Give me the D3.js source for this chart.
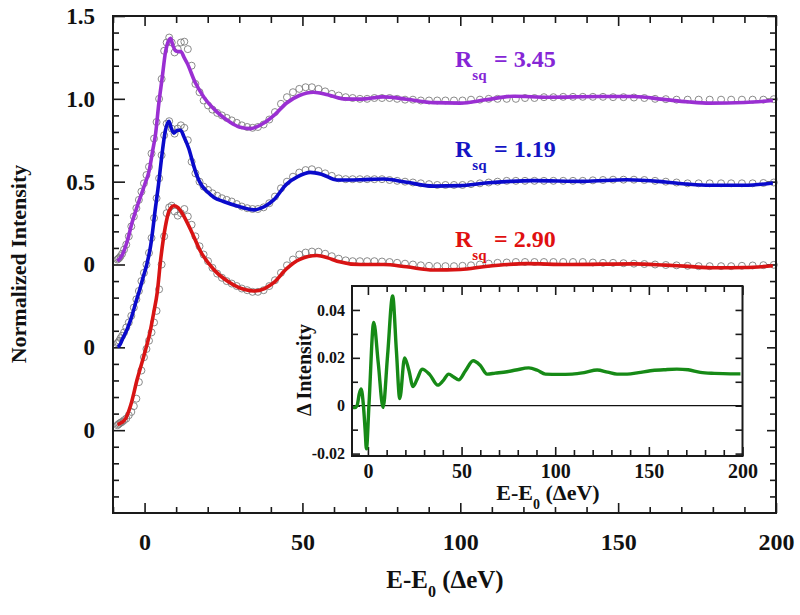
<!DOCTYPE html>
<html><head><meta charset="utf-8">
<script src="https://cdn.jsdelivr.net/npm/d3@7"></script>
<style>
body{margin:0;background:#fff}
svg{display:block}
text{font-family:"Liberation Serif","Times New Roman",serif;font-weight:bold}
</style>
</head><body>
<svg id="chart" width="800" height="615"></svg>
<script>
// ---------- tick labels ----------
const yTickValues = [1.5, 1.0, 0.5, 0, -0.5, -1.0];
const yTickLabels = ["1.5", "1.0", "0.5", "0", "0", "0"];
const xTickValues = [0, 50, 100, 150, 200];
const insetYTickValues = [0.04, 0.02, 0, -0.02];
const insetYTickLabels = ["0.04", "0.02", "0", "-0.02"];
const rsqValues = ["3.45", "1.19", "2.90"];

// ---------- fitted curves (solid lines) ----------
const fitE_purple = [-8.6,-7,-5.5,-4,-2,0,1.5,2.5,3.5,4.5,5.6,6.6,7.6,8.2,9.0,9.8,10.6,11.5,12.5,13.5,16,18.8,23,27,30,33.5,37,41,45,49,53.5,58,63,68.5,75.5,83,91.5,100,108,117,128,144,155,165,172,179,190,199];
const fitV_purple = [0.02,0.06,0.14,0.25,0.37,0.48,0.57,0.68,0.79,0.97,1.13,1.28,1.35,1.365,1.32,1.29,1.285,1.285,1.25,1.215,1.10,1.01,0.92,0.86,0.83,0.82,0.845,0.90,0.975,1.02,1.04,1.025,1.0,0.998,1.012,0.998,0.977,0.974,0.994,1.016,1.01,1.014,1.014,0.995,0.982,0.974,0.978,0.99];

const fitE_blue = [-8.6,-8,-7,-5.5,-4,-2.8,-1.5,-0.5,0.7,1.9,3.5,4.4,5.3,6.6,7.7,8.5,9.3,10.4,11.4,12.5,14,15.5,16.7,18,19.8,22,25,29.9,34.6,38,40.9,45,48.5,52.5,56,61,68.4,75.7,83,91.5,100,108,116,123,139,152.7,165,172,179,190,199];
const fitV_blue = [-0.495,-0.49,-0.45,-0.39,-0.31,-0.23,-0.15,-0.08,0.0,0.11,0.35,0.48,0.63,0.81,0.865,0.82,0.793,0.81,0.81,0.77,0.70,0.60,0.53,0.48,0.44,0.405,0.38,0.35,0.33,0.35,0.39,0.485,0.53,0.556,0.545,0.51,0.512,0.516,0.496,0.473,0.476,0.492,0.502,0.506,0.502,0.512,0.498,0.485,0.478,0.478,0.492];

const fitE_red = [-8.6,-8,-6,-4.4,-2.3,-0.2,1.7,2.9,4.0,5.1,6.6,7.7,9.3,10.5,11.9,14.6,17.7,21.9,26.2,29.9,34.6,38,40.9,45,49,54.6,58,61,68.4,75.7,83,91.5,100,108,115,121,134,155,165,171,181,190,199];
const fitV_red = [-0.965,-0.962,-0.93,-0.85,-0.69,-0.55,-0.41,-0.29,-0.17,0.03,0.23,0.32,0.355,0.345,0.31,0.21,0.08,-0.03,-0.10,-0.14,-0.16,-0.145,-0.11,-0.025,0.03,0.054,0.04,0.02,0.0,0.0,-0.014,-0.033,-0.03,-0.012,0.0,0.005,0.0,0.004,-0.004,-0.01,-0.02,-0.018,-0.008];

// ---------- measured data (open circles) ----------
const dataE = [
 -8.6,-8.3,-8.0,-7.6,-7.1,-6.5,-5.8,-5.0,-4.2,-3.4,
 -2.6,-1.8,-1.0,-0.2,0.6,1.4,2.2,3.0,3.8,4.6,
 5.4,6.2,7.0,7.8,8.6,9.5,10.5,11.5,12.6,13.7,
 14.9,16.1,17.4,18.7,20.1,21.5,23.0,24.5,26.0,27.6,
 29.2,30.8,32.5,34.2,35.9,37.7,39.5,41.3,43.2,45.1,
 47.0,49.0,51.0,53.0,55.1,57.2,59.3,61.5,63.7,65.9,
 68.2,70.5,72.8,75.2,77.6,80.0,82.5,85.0,87.5,90.1,
 92.7,95.3,98.0,100.7,103.4,106.2,109.0,111.8,114.7,117.6,
 120.5,123.5,126.5,129.5,132.6,135.7,138.8,142.0,145.2,148.4,
 151.7,155.0,158.3,161.7,165.1,168.5,172.0,175.5,179.0,182.6,
 185.8,189.2,192.6,196.0,199.3];
const dataV_purple = [
 0.03,0.035,0.04,0.05,0.065,0.09,0.12,0.17,0.23,0.29,
 0.34,0.39,0.44,0.49,0.54,0.59,0.67,0.76,0.86,1.0,
 1.12,1.29,1.34,1.37,1.34,1.28,1.30,1.34,1.345,1.30,
 1.20,1.09,1.04,0.99,0.96,0.935,0.915,0.90,0.885,0.87,
 0.855,0.84,0.83,0.825,0.83,0.845,0.875,0.92,0.97,1.01,
 1.04,1.06,1.07,1.07,1.06,1.045,1.03,1.02,1.01,1.005,
 1.0,1.0,1.005,1.005,1.005,1.0,0.995,0.995,0.99,0.99,
 0.99,0.99,0.99,0.99,0.995,0.995,1.0,1.0,1.0,1.0,
 1.005,1.005,1.01,1.01,1.012,1.012,1.012,1.012,1.012,1.01,
 1.01,1.008,1.005,1.0,0.998,0.995,0.995,0.995,0.995,0.995,
 0.995,0.995,0.995,0.995,0.998];
const dataV_blue = [
 -0.475,-0.47,-0.46,-0.445,-0.43,-0.41,-0.38,-0.35,-0.31,-0.26,
 -0.21,-0.16,-0.10,-0.05,0.0,0.07,0.16,0.28,0.40,0.52,
 0.66,0.78,0.85,0.865,0.82,0.79,0.82,0.84,0.825,0.75,
 0.62,0.55,0.50,0.47,0.45,0.43,0.415,0.40,0.39,0.38,
 0.365,0.35,0.34,0.335,0.335,0.345,0.37,0.41,0.46,0.50,
 0.53,0.555,0.57,0.575,0.565,0.55,0.535,0.52,0.515,0.515,
 0.515,0.515,0.515,0.515,0.51,0.505,0.50,0.495,0.49,0.485,
 0.48,0.48,0.48,0.48,0.485,0.49,0.495,0.50,0.505,0.505,
 0.505,0.505,0.505,0.505,0.505,0.505,0.505,0.508,0.51,0.512,
 0.512,0.512,0.51,0.505,0.50,0.495,0.49,0.49,0.49,0.49,
 0.49,0.49,0.49,0.492,0.495];
const dataV_red = [
 -0.97,-0.965,-0.96,-0.955,-0.95,-0.94,-0.93,-0.91,-0.89,-0.855,
 -0.81,-0.71,-0.64,-0.56,-0.51,-0.46,-0.41,-0.35,-0.28,-0.15,
 0.0,0.17,0.31,0.345,0.355,0.32,0.295,0.31,0.335,0.29,
 0.24,0.17,0.11,0.06,0.02,-0.02,-0.055,-0.08,-0.10,-0.115,
 -0.13,-0.145,-0.155,-0.165,-0.165,-0.155,-0.13,-0.095,-0.05,-0.005,
 0.03,0.06,0.072,0.078,0.077,0.065,0.05,0.035,0.025,0.02,
 0.02,0.02,0.02,0.018,0.015,0.01,0.005,0.0,-0.005,-0.008,
 -0.01,-0.01,-0.01,-0.008,-0.005,0.0,0.005,0.01,0.012,0.015,
 0.015,0.015,0.015,0.015,0.015,0.015,0.015,0.012,0.01,0.01,
 0.008,0.005,0.003,0.0,-0.003,-0.005,-0.008,-0.01,-0.01,-0.01,
 -0.01,-0.008,-0.006,-0.004,-0.002];

// ---------- inset: difference ----------
const diffE = [-8.3,-7.0,-5.8,-4.6,-3.6,-2.4,-1.5,-0.8,0.6,3.1,5.5,8.1,10.5,13.2,15.2,17.0,19.6,21.8,24.1,26.5,28.9,33.0,37.3,40.2,43.1,45.8,48.5,52.0,56.2,59.8,63.6,68.0,74.3,79.0,85.9,90.5,94.8,102.0,109.0,115.5,122.4,128.0,133.0,138.4,144.5,150.8,158.0,165.0,171.0,177.5,185.0,193.5,198.9];
const diffV = [-0.0008,-0.0008,0.0,0.005,0.007,0.0,-0.01,-0.018,0.001,0.0348,0.018,-0.0007,0.021,0.0458,0.023,0.003,0.020,0.015,0.008,0.0115,0.0153,0.013,0.0086,0.0105,0.0132,0.012,0.0108,0.0145,0.0188,0.017,0.0132,0.0136,0.0142,0.0149,0.0158,0.0148,0.0132,0.0131,0.0132,0.0138,0.0149,0.014,0.0132,0.0132,0.0138,0.0146,0.015,0.0153,0.015,0.0139,0.0135,0.0133,0.0133];

// ---------- drawing ----------
const svg = d3.select("#chart");
svg.append("rect").attr("width",800).attr("height",615).attr("fill","#fff");

const M = {l:113, r:776, t:16, b:513};
const x = d3.scaleLinear().domain([-10,200]).range([M.l,M.r]);
const y = d3.scaleLinear().domain([-1.5,1.5]).range([M.b,M.t]);

const series = [
  {fe:fitE_purple, fv:fitV_purple, dv:dataV_purple, line:"#9a2fd2", text:"#8526d6", ty:66.7},
  {fe:fitE_blue,   fv:fitV_blue,   dv:dataV_blue,   line:"#0a0acb", text:"#1414c4", ty:156.7},
  {fe:fitE_red,    fv:fitV_red,    dv:dataV_red,    line:"#d81414", text:"#e01010", ty:246.7}
];

const axisColor = "#1a1a1a";
function styleAxis(g, fs){
  g.select(".domain").remove();
  g.selectAll(".tick line").attr("stroke",axisColor).attr("stroke-width",1.6);
  g.selectAll("text").attr("font-size",fs).attr("fill","#111")
   .attr("font-family",'"Liberation Serif","Times New Roman",serif').attr("font-weight","bold");
}

// main axes ticks
const minorX = d3.range(-10,201,10).filter(v=>v%50!==0);
const minorY = d3.range(-14,15,1).map(v=>v/10).filter(v=>Math.abs(Math.round(v*10))%5!==0);
const majorY = [-1.0,-0.5,0,0.5,1.0,1.5];

const gx = svg.append("g").attr("transform",`translate(0,${M.b})`);
gx.call(d3.axisBottom(x).tickValues(xTickValues).tickSize(-10).tickPadding(20).tickFormat(d3.format("d")));
styleAxis(gx,24);
const gxm = svg.append("g").attr("transform",`translate(0,${M.b})`);
gxm.call(d3.axisBottom(x).tickValues(minorX).tickSize(-6).tickFormat(""));
styleAxis(gxm,0);
const gxt = svg.append("g").attr("transform",`translate(0,${M.t})`);
gxt.call(d3.axisTop(x).tickValues(xTickValues).tickSize(-10).tickFormat(""));
styleAxis(gxt,0);
const gxtm = svg.append("g").attr("transform",`translate(0,${M.t})`);
gxtm.call(d3.axisTop(x).tickValues(minorX).tickSize(-7).tickFormat(""));
styleAxis(gxtm,0);

const gy = svg.append("g").attr("transform",`translate(${M.l},0)`);
gy.call(d3.axisLeft(y).tickValues(yTickValues).tickSize(-12).tickPadding(18)
  .tickFormat((d,i)=>yTickLabels[i]));
styleAxis(gy,23);
const gym = svg.append("g").attr("transform",`translate(${M.l},0)`);
gym.call(d3.axisLeft(y).tickValues(minorY).tickSize(-6).tickFormat(""));
styleAxis(gym,0);
const gyr = svg.append("g").attr("transform",`translate(${M.r},0)`);
gyr.call(d3.axisRight(y).tickValues(majorY).tickSize(-9).tickFormat(""));
styleAxis(gyr,0);
const gyrm = svg.append("g").attr("transform",`translate(${M.r},0)`);
gyrm.call(d3.axisRight(y).tickValues(minorY).tickSize(-6).tickFormat(""));
styleAxis(gyrm,0);

// data circles
const circG = svg.append("g");
series.forEach(s=>{
  circG.selectAll(null).data(dataE.map((e,i)=>[e,s.dv[i]])).enter().append("circle")
    .attr("cx",d=>x(d[0])).attr("cy",d=>y(d[1])).attr("r",3.5)
    .attr("fill","none").attr("stroke","#7d7d7d").attr("stroke-width",0.9);
});

// fit lines
const line = d3.line().x(d=>x(d[0])).y(d=>y(d[1])).curve(d3.curveMonotoneX);
series.forEach(s=>{
  svg.append("path").datum(s.fe.map((e,i)=>[e,s.fv[i]]))
    .attr("d",line).attr("fill","none").attr("stroke",s.line)
    .attr("stroke-width",3.6).attr("stroke-linejoin","round");
});

// frame
svg.append("rect").attr("x",M.l).attr("y",M.t).attr("width",M.r-M.l).attr("height",M.b-M.t)
  .attr("fill","none").attr("stroke",axisColor).attr("stroke-width",2);

// R_sq labels
series.forEach((s,i)=>{
  const t = svg.append("text").attr("x",455).attr("y",s.ty).attr("fill",s.text).attr("font-size",24);
  t.append("tspan").text("R");
  t.append("tspan").attr("dy",13).attr("font-size",15).text("sq");
  t.append("tspan").attr("x",494).attr("dy",-13).text("= " + rsqValues[i]);
});

// axis titles
svg.append("text").attr("transform","translate(26,264) rotate(-90)")
  .attr("text-anchor","middle").attr("font-size",22).attr("fill","#111").text("Normalized Intensity");
const xl = svg.append("text").attr("x",445).attr("y",588).attr("text-anchor","middle")
  .attr("font-size",25).attr("fill","#111");
xl.append("tspan").text("E-E");
xl.append("tspan").attr("dy",9).attr("font-size",16).text("0");
xl.append("tspan").attr("dy",-9).text(" (\u0394eV)");

// ---------- inset ----------
const I = {l:352, r:742.5, t:286, b:456};
const ix = d3.scaleLinear().domain([-8.5,200]).range([I.l,I.r]);
const iy = d3.scaleLinear().domain([-0.021,0.05]).range([I.b,I.t]);
svg.append("rect").attr("x",I.l).attr("y",I.t).attr("width",I.r-I.l).attr("height",I.b-I.t).attr("fill","#fff");

const iMinorX = d3.range(10,200,10).filter(v=>v%50!==0);
const iMinorY = [-0.01,0.01,0.03];
const iMajorY = [-0.02,0,0.02,0.04];

const igx = svg.append("g").attr("transform",`translate(0,${I.b})`);
igx.call(d3.axisBottom(ix).tickValues(xTickValues).tickSize(-9).tickPadding(8).tickFormat(d3.format("d")));
styleAxis(igx,20);
const igxm = svg.append("g").attr("transform",`translate(0,${I.b})`);
igxm.call(d3.axisBottom(ix).tickValues(iMinorX).tickSize(-6).tickFormat(""));
styleAxis(igxm,0);
const igxt = svg.append("g").attr("transform",`translate(0,${I.t})`);
igxt.call(d3.axisTop(ix).tickValues(xTickValues).tickSize(-9).tickFormat(""));
styleAxis(igxt,0);
const igxtm = svg.append("g").attr("transform",`translate(0,${I.t})`);
igxtm.call(d3.axisTop(ix).tickValues(iMinorX).tickSize(-6).tickFormat(""));
styleAxis(igxtm,0);

const igy = svg.append("g").attr("transform",`translate(${I.l},0)`);
igy.call(d3.axisLeft(iy).tickValues(insetYTickValues).tickSize(-8).tickPadding(7)
  .tickFormat((d,i)=>insetYTickLabels[i]));
styleAxis(igy,16);
const igym = svg.append("g").attr("transform",`translate(${I.l},0)`);
igym.call(d3.axisLeft(iy).tickValues(iMinorY).tickSize(-6).tickFormat(""));
styleAxis(igym,0);
const igyr = svg.append("g").attr("transform",`translate(${I.r},0)`);
igyr.call(d3.axisRight(iy).tickValues(iMajorY.concat(iMinorY)).tickSize(-7).tickFormat(""));
styleAxis(igyr,0);

// zero line
svg.append("line").attr("x1",I.l).attr("x2",I.r).attr("y1",iy(0)).attr("y2",iy(0))
  .attr("stroke","#111").attr("stroke-width",1.2);

// difference curve
const iline = d3.line().x(d=>ix(d[0])).y(d=>iy(d[1])).curve(d3.curveMonotoneX);
svg.append("path").datum(diffE.map((e,i)=>[e,diffV[i]]))
  .attr("d",iline).attr("fill","none").attr("stroke","#168a16")
  .attr("stroke-width",3.4).attr("stroke-linejoin","round");

svg.append("rect").attr("x",I.l).attr("y",I.t).attr("width",I.r-I.l).attr("height",I.b-I.t)
  .attr("fill","none").attr("stroke",axisColor).attr("stroke-width",2);

svg.append("text").attr("transform","translate(311,370) rotate(-90)")
  .attr("text-anchor","middle").attr("font-size",20).attr("fill","#111").text("\u0394 Intensity");
const ixl = svg.append("text").attr("x",548).attr("y",500).attr("text-anchor","middle")
  .attr("font-size",22).attr("fill","#111");
ixl.append("tspan").text("E-E");
ixl.append("tspan").attr("dy",9).attr("font-size",14).text("0");
ixl.append("tspan").attr("dy",-9).text(" (\u0394eV)");
</script>
</body></html>
